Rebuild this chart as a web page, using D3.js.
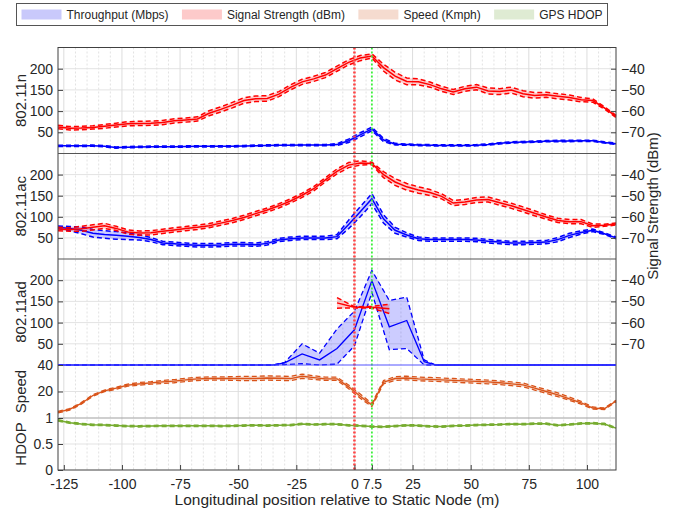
<!DOCTYPE html>
<html>
<head>
<meta charset="utf-8">
<style>
  body { margin: 0; background: #fff; font-family: "Liberation Sans", Arial, sans-serif; }
  text { fill: #262626; }
</style>
</head>
<body>
<div id="chart"></div>
<script src="https://d3js.org/d3.v7.min.js"></script>
<script>
// positions (m) of the samples, shared by most series
var positions = [-127.5,-122.5,-117.5,-112.5,-107.5,-102.5,-97.5,-92.5,-87.5,-82.5,-77.5,-72.5,-67.5,-62.5,-57.5,-52.5,-47.5,-42.5,-37.5,-32.5,-27.5,-22.5,-17.5,-12.5,-7.5,-2.5,2.5,7.5,12.5,17.5,22.5,27.5,32.5,37.5,42.5,47.5,52.5,57.5,62.5,67.5,72.5,77.5,82.5,87.5,92.5,97.5,102.5,107.5,112.5];

// 802.11n
var nThr = [18,18,18,18.5,17,14,15,15.5,16,16,16,16.5,17,17,17,17,17.5,18.5,19,19.5,19.5,20,20,20,21,30,44,58,32,22,21,20,19.5,19,19,19,19.5,21,24,26,27,28,29,29.5,29.5,30,30,26,23];
var nThrSpread = [1.5,1.5,1.5,1.5,1.5,1.5,1.5,1.5,1.5,1.5,1.5,1.5,1.5,1.5,1.5,1.5,1.5,1.5,1.5,1.5,1.5,1.5,1.5,1.5,2,4,5,4,4,2,1.5,1.5,1.5,1.5,1.5,1.5,1.5,1.5,1.5,1.5,1.5,1.5,1.5,1.5,1.5,1.5,1.5,1.5,1.5];
var nSig = [-67.5,-68.1,-68.0,-67.7,-67.2,-66.6,-66.0,-65.8,-65.7,-65.4,-64.6,-64.2,-63.7,-61.0,-59.2,-57.2,-55.0,-54.2,-54.0,-52.0,-48.8,-46.2,-44.8,-43.0,-40.0,-37.0,-35.0,-34.0,-39.5,-43.5,-46.0,-46.2,-47.5,-49.5,-51.0,-49.5,-48.7,-50.5,-50.8,-50.1,-51.8,-52.6,-52.3,-53.0,-53.6,-54.6,-55.0,-58.5,-62.5];
var nSigSpread = [0.8,0.8,0.8,0.8,0.9,0.9,1.0,1.0,1.0,1.0,1.0,1.0,1.0,1.2,1.2,1.3,1.3,1.3,1.3,1.2,1.2,1.2,1.2,1.2,1.2,1.2,1.2,1.0,1.6,1.8,1.6,1.4,1.2,1.2,1.2,1.2,1.2,1.4,1.4,1.4,1.4,1.3,1.2,1.2,1.2,1.0,0.8,0.5,0.5];

// 802.11ac
var acThr = [75,72,68,61,58,56,54,51,46,38,36,34,32.5,32.5,33,35,35,34,37,45,48,50,50,50,53,82,112,143,95,68,57,48,46,46,46,46,45,42,40,38,38,39,40,46,56,63,68,60,50];
var acThrSpread = [3,5,8,9,9,9,8,6,5,4,4,4,4,4,4,4,4,4,4,4,4,4,4,4,5,10,12,12,10,7,5,4,4,4,4,4,4,4,4,4,4,4,4,5,5,4,3,2,2];
var acSig = [-65.8,-66.0,-65.7,-65.0,-64.3,-65.5,-67.2,-67.7,-67.6,-66.9,-66.2,-65.6,-65.0,-64.2,-63.0,-61.8,-60.3,-58.5,-56.8,-54.8,-52.5,-49.8,-46.7,-42.5,-38.5,-35.5,-34.5,-34.7,-40.0,-43.5,-45.8,-47.3,-48.5,-50.3,-53.5,-53.0,-52.0,-51.8,-53.3,-54.8,-56.5,-58.3,-60.1,-61.7,-62.3,-62.3,-64.2,-64.0,-63.4];
var acSigSpread = [0.8,0.8,1.2,1.2,1.2,1.0,1.0,1.0,1.0,1.0,1.0,1.0,1.0,1.0,1.0,1.0,1.0,1.0,1.0,1.0,1.0,1.0,1.0,1.0,1.2,1.2,1.0,0.6,1.4,1.6,1.6,1.5,1.4,1.2,1.2,1.2,1.2,1.2,1.2,1.2,1.2,1.2,1.0,1.0,1.0,1.0,0.8,0.5,0.5];

// 802.11ad (sparser sampling)
var adPos = [-127.5,-35,-30,-22.5,-15,-7.5,0,7.5,15,22.5,30,35,112.5];
var adThr = [0,0,5,26,12,39,83,199,90,105,8,0,0];
var adThrLow = [0,0,1,3,0,2,45,171,36,39,0,0,0];
var adThrHigh = [0,0,6,50,28,85,127,223,152,160,12,0,0];
var adSigPos = [-7.5,0,7.5,15];
var adSig = [-50.7,-52.8,-52.8,-53.5];
var adSigSpread = [2.5,0.3,0.4,2.2];

// vehicle
var speed = [4.4,6.5,11,17,20.5,22.5,24.8,25.8,26.5,27.2,27.8,28.8,29.5,29.8,29.8,29.8,29.8,29.8,30.2,30,29.8,31.5,30.5,29.6,29.6,23.5,16.5,9.8,27,29.8,30.2,29.5,29.2,28.8,28.4,28,27.6,27.2,26.6,25.8,25,22.5,20,17.5,14.5,11.5,7.5,7,12.8];
var speedSpread = [0.6,0.6,0.6,0.6,0.6,0.8,0.8,1.0,1.0,1.2,1.2,1.2,1.2,1.2,1.2,1.4,1.6,1.6,1.6,1.6,1.6,1.6,1.4,1.2,1.2,1.4,1.6,1.2,1.2,1.4,1.4,1.4,1.4,1.4,1.4,1.4,1.4,1.4,1.4,1.4,1.4,1.4,1.4,1.4,1.2,1.0,0.8,0.6,0.6];
var hdop = [0.955,0.91,0.885,0.87,0.865,0.855,0.845,0.84,0.845,0.85,0.85,0.85,0.85,0.85,0.845,0.85,0.855,0.86,0.855,0.86,0.865,0.885,0.875,0.88,0.88,0.86,0.85,0.835,0.83,0.845,0.86,0.855,0.84,0.835,0.85,0.855,0.865,0.87,0.875,0.885,0.88,0.89,0.89,0.86,0.875,0.895,0.9,0.885,0.805];
var hdopSpread = [0.012,0.012,0.012,0.012,0.012,0.012,0.012,0.012,0.012,0.012,0.012,0.012,0.012,0.012,0.012,0.012,0.012,0.012,0.012,0.012,0.012,0.012,0.012,0.012,0.012,0.012,0.012,0.012,0.012,0.012,0.012,0.012,0.012,0.012,0.012,0.012,0.012,0.012,0.012,0.012,0.012,0.012,0.012,0.012,0.012,0.012,0.012,0.012,0.012];

var xTicks = [-125,-100,-75,-50,-25,0,7.5,25,50,75,100];
var thrTicks = [50,100,150,200];
var sigTicks = [-70,-60,-50,-40];
var speedTicks = [20,40];
var hdopTicks = [0,0.5,1];
var markers = [{pos: 0, color: "#ff4545", width: 2.6}, {pos: 7.5, color: "#3cf03c", width: 1.8}];
var legendItems = [
  {label: "Throughput (Mbps)", color: "#c9c9fb"},
  {label: "Signal Strength (dBm)", color: "#fdcaca"},
  {label: "Speed (Kmph)", color: "#f5dbcf"},
  {label: "GPS HDOP", color: "#dfebd3"}
];

var width = 680, height = 512;
var left = 58, right = 616;

var svg = d3.select("#chart").append("svg")
    .attr("width", width)
    .attr("height", height);

var x = d3.scaleLinear().domain([-127.5, 112.5]).range([left, right]);

var panels = [
  {label: "802.11n", top: 47.5, bottom: 153.5},
  {label: "802.11ac", top: 153.5, bottom: 259},
  {label: "802.11ad", top: 259, bottom: 365}
];
panels.forEach(function(p){
  p.yThr = d3.scaleLinear().domain([0, 250]).range([p.bottom, p.top]);
  p.ySig = d3.scaleLinear().domain([-80, -30]).range([p.bottom, p.top]);
});
var ySpeed = d3.scaleLinear().domain([0, 40]).range([418, 365]);
var yHdop = d3.scaleLinear().domain([0, 1]).range([470, 418]);

var grid = svg.append("g");
var marks = svg.append("g");
var frame = svg.append("g");

// horizontal grid
function hgrid(scale, vals){
  grid.selectAll(null).data(vals).enter().append("line")
      .attr("x1", left).attr("x2", right)
      .attr("y1", function(d){ return scale(d); })
      .attr("y2", function(d){ return scale(d); })
      .attr("stroke", "#e3e3e3").attr("stroke-width", 1);
}
panels.forEach(function(p){ hgrid(p.yThr, thrTicks); });
hgrid(ySpeed, [20]);
hgrid(yHdop, [0.5]);

// vertical minor grid every 5 m
var vg = [];
for (var v = -125; v <= 110; v += 5) vg.push(v);
grid.selectAll(null).data(vg).enter().append("line")
    .attr("x1", function(d){ return x(d); }).attr("x2", function(d){ return x(d); })
    .attr("y1", 47.5).attr("y2", 470)
    .attr("stroke", function(d){ return d % 25 == 0 ? "#dddddd" : "#e2e2e2"; })
    .attr("stroke-width", 1)
    .attr("stroke-dasharray", function(d){ return d % 25 == 0 ? null : "2,2"; });

// one series: light band, dashed edges, solid centre
function series(xs, mid, lo, hi, y, color, fill, lw){
  var pts = xs.map(function(d, i){ return {x: d, m: mid[i], lo: lo[i], hi: hi[i]}; });
  marks.append("path").datum(pts)
      .attr("d", d3.area().x(function(d){ return x(d.x); })
        .y0(function(d){ return y(d.lo); }).y1(function(d){ return y(d.hi); }))
      .attr("fill", fill).attr("stroke", "none");
  ["lo", "hi"].forEach(function(k){
    marks.append("path").datum(pts)
        .attr("d", d3.line().x(function(d){ return x(d.x); }).y(function(d){ return y(d[k]); }))
        .attr("fill", "none").attr("stroke", color).attr("stroke-width", lw)
        .attr("stroke-dasharray", "5,3");
  });
  marks.append("path").datum(pts)
      .attr("d", d3.line().x(function(d){ return x(d.x); }).y(function(d){ return y(d.m); }))
      .attr("fill", "none").attr("stroke", color).attr("stroke-width", lw);
}
function sym(mid, sp, s){ return mid.map(function(d, i){ return d + s * sp[i]; }); }

var BLUE = "#0000ff", BLUEF = "rgba(0,0,255,0.2)";
var RED = "#ff0000", REDF = "rgba(255,0,0,0.2)";
var ORANGE = "#d95319", ORANGEF = "rgba(217,83,25,0.2)";
var GREEN = "#77ac30", GREENF = "rgba(119,172,48,0.2)";

series(positions, nThr, sym(nThr, nThrSpread, -1), sym(nThr, nThrSpread, 1), panels[0].yThr, BLUE, BLUEF, 1.5);
series(positions, nSig, sym(nSig, nSigSpread, -1), sym(nSig, nSigSpread, 1), panels[0].ySig, RED, REDF, 1.5);
series(positions, acThr, sym(acThr, acThrSpread, -1), sym(acThr, acThrSpread, 1), panels[1].yThr, BLUE, BLUEF, 1.5);
series(positions, acSig, sym(acSig, acSigSpread, -1), sym(acSig, acSigSpread, 1), panels[1].ySig, RED, REDF, 1.5);
series(adPos, adThr, adThrLow, adThrHigh, panels[2].yThr, BLUE, BLUEF, 1.3);
series(adSigPos, adSig, sym(adSig, adSigSpread, -1), sym(adSig, adSigSpread, 1), panels[2].ySig, RED, REDF, 1.5);
series(positions, speed, sym(speed, speedSpread, -1), sym(speed, speedSpread, 1), ySpeed, ORANGE, ORANGEF, 1.3);
series(positions, hdop, sym(hdop, hdopSpread, -1), sym(hdop, hdopSpread, 1), yHdop, GREEN, GREENF, 1.5);

// marker lines at 0 and 7.5 m
marks.selectAll(null).data(markers).enter().append("line")
    .attr("x1", function(d){ return x(d.pos); }).attr("x2", function(d){ return x(d.pos); })
    .attr("y1", 47.5).attr("y2", 470)
    .attr("stroke", function(d){ return d.color; })
    .attr("stroke-width", function(d){ return d.width; })
    .attr("stroke-dasharray", "2,2");

// frame and separators
var axisColor = "#404040";
frame.append("rect").attr("x", left).attr("y", 47.5).attr("width", right - left).attr("height", 470 - 47.5)
    .attr("fill", "none").attr("stroke", axisColor).attr("stroke-width", 1);
[153.5, 259].forEach(function(yy){
  frame.append("line").attr("x1", left).attr("x2", right).attr("y1", yy).attr("y2", yy)
      .attr("stroke", "#555").attr("stroke-width", 1.2);
});
frame.append("line").attr("x1", left).attr("x2", right).attr("y1", 418).attr("y2", 418)
    .attr("stroke", "#a0a0a0").attr("stroke-width", 1.2);
frame.append("line").attr("x1", left).attr("x2", right).attr("y1", 365).attr("y2", 365)
    .attr("stroke", "#5555ff").attr("stroke-width", 1);

function styleAxis(g){
  g.select(".domain").remove();
  g.selectAll(".tick line").attr("stroke", axisColor);
  g.selectAll(".tick text").attr("font-size", "14px").attr("fill", "#262626")
      .attr("font-family", "'Liberation Sans', Arial, sans-serif");
}

panels.forEach(function(p){
  frame.append("g").attr("transform", "translate(" + left + ",0)")
      .call(d3.axisLeft(p.yThr).tickValues(thrTicks).tickSizeInner(-5).tickSizeOuter(0).tickPadding(5))
      .call(styleAxis);
  frame.append("g").attr("transform", "translate(" + right + ",0)")
      .call(d3.axisRight(p.ySig).tickValues(sigTicks).tickSizeInner(-5).tickSizeOuter(0).tickPadding(5))
      .call(styleAxis);
  frame.append("text")
      .attr("transform", "translate(25.5," + ((p.top + p.bottom) / 2) + ") rotate(-90)")
      .attr("text-anchor", "middle").attr("font-size", "15px")
      .text(p.label);
});
frame.append("g").attr("transform", "translate(" + left + ",0)")
    .call(d3.axisLeft(ySpeed).tickValues(speedTicks).tickSizeInner(-5).tickSizeOuter(0).tickPadding(5))
    .call(styleAxis);
frame.append("g").attr("transform", "translate(" + left + ",0)")
    .call(d3.axisLeft(yHdop).tickValues(hdopTicks).tickSizeInner(-5).tickSizeOuter(0).tickPadding(5)
      .tickFormat(function(d){ return d == 0.5 ? "0.5" : d; }))
    .call(styleAxis);
frame.append("text")
    .attr("transform", "translate(25.5,391.5) rotate(-90)")
    .attr("text-anchor", "middle").attr("font-size", "15px").text("Speed");
frame.append("text")
    .attr("transform", "translate(25.5,444) rotate(-90)")
    .attr("text-anchor", "middle").attr("font-size", "15px").text("HDOP");

frame.append("g").attr("transform", "translate(0,470)")
    .call(d3.axisBottom(x).tickValues(xTicks).tickSizeInner(-5).tickSizeOuter(0).tickPadding(9)
      .tickFormat(function(d){ return d; }))
    .call(styleAxis);
frame.append("text")
    .attr("x", (left + right) / 2).attr("y", 505)
    .attr("text-anchor", "middle").attr("font-size", "15.5px")
    .text("Longitudinal position relative to Static Node (m)");
frame.append("text")
    .attr("transform", "translate(658,206) rotate(-90)")
    .attr("text-anchor", "middle").attr("font-size", "15px")
    .text("Signal Strength (dBm)");

// legend
var legend = svg.append("g");
legend.append("rect").attr("x", 16.5).attr("y", 3.5).attr("width", 591).attr("height", 22)
    .attr("fill", "#fff").attr("stroke", "#555").attr("stroke-width", 1);
var texts = legendItems.map(function(d){
  return legend.append("text").attr("font-size", "12px").attr("y", 18.5).text(d.label);
});
var lens = texts.map(function(t){ return t.node().getComputedTextLength(); });
var sw = 40, gap = 5;
var free = 591 - 10 - d3.sum(lens) - legendItems.length * (sw + gap);
var step = free / (legendItems.length - 1);
var cx = 16.5 + 5;
legendItems.forEach(function(d, i){
  legend.append("rect").attr("x", cx).attr("y", 9.5).attr("width", sw).attr("height", 10).attr("fill", d.color);
  texts[i].attr("x", cx + sw + gap);
  cx += sw + gap + lens[i] + step;
});
</script>
</body>
</html>
